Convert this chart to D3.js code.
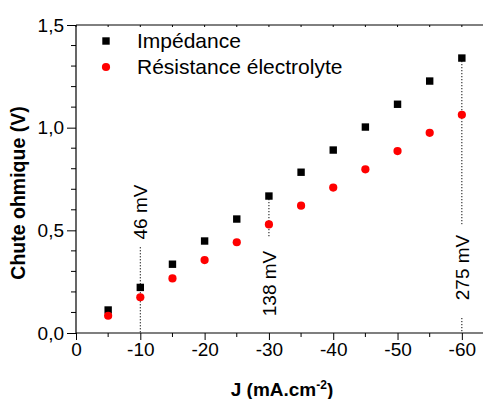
<!DOCTYPE html>
<html>
<head>
<meta charset="utf-8">
<script src="https://cdn.jsdelivr.net/npm/d3@7"></script>
<style>
  body { margin: 0; background: #fff; }
  text { font-family: "Liberation Sans", Arial, sans-serif; fill: #000; }
</style>
</head>
<body>
<svg id="plot" width="483" height="399"></svg>
<script>
// data
var currents = [-5, -10, -15, -20, -25, -30, -35, -40, -45, -50, -55, -60];
var impedance = [0.112, 0.222, 0.335, 0.448, 0.555, 0.667, 0.783, 0.891, 1.003, 1.114, 1.227, 1.339];
var electrolyte = [0.084, 0.174, 0.266, 0.355, 0.442, 0.529, 0.620, 0.708, 0.797, 0.886, 0.975, 1.063];
var seriesNames = ["Impédance", "Résistance électrolyte"];
var xTicks = [0, -10, -20, -30, -40, -50, -60];
var yTicks = [0, 0.5, 1.0, 1.5];
// gaps between the two series, marked on the chart
var gapAt = [-10, -30, -60];
var gapLabels = ["46 mV", "138 mV", "275 mV"];

var svg = d3.select("#plot");
var mLeft = 76, mRight = 494, mTop = 25, mBottom = 333;

var x = d3.scaleLinear().domain([0, -65]).range([mLeft, mRight]);
var y = d3.scaleLinear().domain([0, 1.5]).range([mBottom, mTop]);

var fmt = function (d) { return d3.format(".1f")(d).replace(".", ","); };

// axes
var xAxis = d3.axisBottom(x).tickValues(xTicks).tickSize(7).tickPadding(3).tickFormat(function (d) { return d; });
var gx = svg.append("g").attr("transform", "translate(0," + mBottom + ")").call(xAxis);
gx.append("g").selectAll("line")
  .data(d3.range(-5, -65, -10))
  .enter().append("line")
  .attr("x1", function (d) { return x(d); }).attr("x2", function (d) { return x(d); })
  .attr("y1", 0).attr("y2", 4).attr("stroke", "#000");

var yAxis = d3.axisLeft(y).tickValues(yTicks).tickSize(9).tickPadding(3).tickFormat(fmt);
var gy = svg.append("g").attr("transform", "translate(" + mLeft + ",0)").call(yAxis);
gy.append("g").selectAll("line")
  .data(d3.range(0.1, 1.5, 0.1).filter(function (d) { return Math.abs(d * 2 - Math.round(d * 2)) > 0.01; }))
  .enter().append("line")
  .attr("x1", -5).attr("x2", 0)
  .attr("y1", function (d) { return y(d); }).attr("y2", function (d) { return y(d); })
  .attr("stroke", "#000");

// top frame with small inner ticks
var gt = svg.append("g").attr("transform", "translate(0," + mTop + ")");
gt.append("line").attr("x1", mLeft).attr("x2", mRight).attr("stroke", "#000");
gt.selectAll("line.t")
  .data(d3.range(0, -65, -5))
  .enter().append("line").attr("class", "t")
  .attr("x1", function (d) { return x(d); }).attr("x2", function (d) { return x(d); })
  .attr("y1", 0).attr("y2", 2).attr("stroke", "#000");

[gx, gy].forEach(function (g) {
  g.select(".domain").attr("stroke", "#000").attr("stroke-width", 1.2);
  g.selectAll(".tick line").attr("stroke", "#000");
  g.selectAll(".tick text").style("font-size", "19px").style("font-family", "Liberation Sans, Arial, sans-serif");
});
gx.select(".domain").attr("d", "M" + mLeft + ",0H" + mRight);
gy.select(".domain").attr("d", "M0," + mBottom + "V" + mTop);

// annotation dotted lines and labels (positions in data units)
var gapLayout = [
  { segs: [[0.418, 0]], textY: 0.589 },
  { segs: [[impedance[5], 0.467]], textY: 0.241 },
  { segs: [[impedance[11], 0.53], [0.073, 0]], textY: 0.319 }
];
gapAt.forEach(function (j, i) {
  var xp = x(j);
  gapLayout[i].segs.forEach(function (s) {
    svg.append("line")
      .attr("x1", xp).attr("x2", xp)
      .attr("y1", y(s[0])).attr("y2", y(s[1]))
      .attr("stroke", "#000").attr("stroke-width", 1)
      .attr("stroke-dasharray", "1.2,1.8");
  });
  svg.append("text")
    .attr("transform", "translate(" + (xp + 7) + "," + y(gapLayout[i].textY) + ") rotate(-90)")
    .attr("text-anchor", "middle")
    .style("font-size", "19px")
    .text(gapLabels[i]);
});

// points
svg.append("g").selectAll("rect")
  .data(currents)
  .enter().append("rect")
  .attr("x", function (d) { return x(d) - 3.7; })
  .attr("y", function (d, i) { return y(impedance[i]) - 3.7; })
  .attr("width", 7.4).attr("height", 7.4)
  .attr("fill", "#000");

svg.append("g").selectAll("circle")
  .data(currents)
  .enter().append("circle")
  .attr("cx", function (d) { return x(d); })
  .attr("cy", function (d, i) { return y(electrolyte[i]); })
  .attr("r", 4.1)
  .attr("fill", "#f00");

// legend
var lg = svg.append("g");
lg.append("rect").attr("x", 106 - 3.7).attr("y", 41 - 3.7).attr("width", 7.4).attr("height", 7.4).attr("fill", "#000");
lg.append("circle").attr("cx", 106).attr("cy", 67).attr("r", 4.1).attr("fill", "#f00");
lg.append("text").attr("x", 137).attr("y", 48).style("font-size", "21px").text(seriesNames[0]);
lg.append("text").attr("x", 137).attr("y", 74).style("font-size", "21px").text(seriesNames[1]);

// axis titles
var xt = svg.append("text")
  .attr("x", 282).attr("y", 396)
  .attr("text-anchor", "middle")
  .style("font-size", "19px").style("font-weight", "bold");
xt.append("tspan").text("J (mA.cm");
xt.append("tspan").attr("dy", -7).style("font-size", "12px").text("-2");
xt.append("tspan").attr("dy", 7).text(")");

svg.append("text")
  .attr("transform", "translate(25,193) rotate(-90)")
  .attr("text-anchor", "middle")
  .style("font-size", "19.5px").style("font-weight", "bold")
  .text("Chute ohmique (V)");
</script>
</body>
</html>
